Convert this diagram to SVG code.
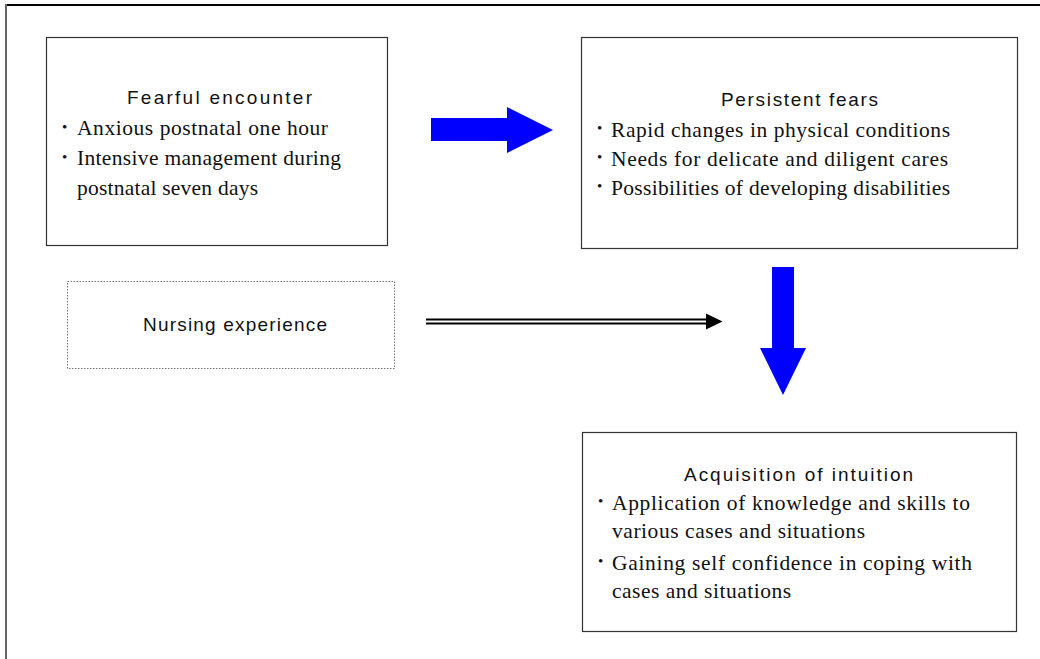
<svg xmlns="http://www.w3.org/2000/svg" width="1040" height="659" viewBox="0 0 1040 659">
<style>
.box{fill:#fff;stroke:#333;stroke-width:1.2}
.dot{fill:#fff;stroke:#777;stroke-width:1;stroke-dasharray:1.5 1.5}
.ttl{font-family:"Liberation Sans",Arial,sans-serif;font-size:19px;fill:#111}
.itm{font-family:"Liberation Serif","Times New Roman",serif;font-size:21.5px;fill:#111}
.bul{font-family:"Liberation Serif","Times New Roman",serif;font-size:15px;fill:#111}
.blue{fill:#0000ff}
</style>
<rect x="0" y="0" width="1040" height="659" fill="#fff"/>
<line x1="5" y1="5" x2="1040" y2="5" stroke="#000" stroke-width="2"/>
<line x1="6" y1="4" x2="6" y2="659" stroke="#666" stroke-width="2"/>

<g id="fearful-encounter">
<rect class="box" x="46.5" y="37.5" width="341" height="208"/>
<text class="ttl" x="127" y="104" textLength="185" lengthAdjust="spacing">Fearful encounter</text>
<text class="bul" x="62" y="132">•</text>
<text class="itm" x="77" y="135" textLength="251" lengthAdjust="spacing">Anxious postnatal one hour</text>
<text class="bul" x="62" y="162">•</text>
<text class="itm" x="77" y="165" textLength="264" lengthAdjust="spacing">Intensive management during</text>
<text class="itm" x="77" y="195" textLength="181" lengthAdjust="spacing">postnatal seven days</text>
</g>

<g id="persistent-fears">
<rect class="box" x="581.5" y="37.5" width="436" height="211"/>
<text class="ttl" x="721" y="106" textLength="157" lengthAdjust="spacing">Persistent fears</text>
<text class="bul" x="597" y="133">•</text>
<text class="itm" x="611" y="137" textLength="339" lengthAdjust="spacing">Rapid changes in physical conditions</text>
<text class="bul" x="597" y="162">•</text>
<text class="itm" x="611" y="166" textLength="337" lengthAdjust="spacing">Needs for delicate and diligent cares</text>
<text class="bul" x="597" y="191">•</text>
<text class="itm" x="611" y="195" textLength="339" lengthAdjust="spacing">Possibilities of developing disabilities</text>
</g>

<g id="nursing-experience">
<rect class="dot" x="67.5" y="281.5" width="327" height="87"/>
<text class="ttl" x="143" y="331" textLength="184" lengthAdjust="spacing">Nursing experience</text>
</g>

<g id="acquisition-of-intuition">
<rect class="box" x="582.5" y="432.5" width="434" height="199"/>
<text class="ttl" x="684" y="481" textLength="229" lengthAdjust="spacing">Acquisition of intuition</text>
<text class="bul" x="598" y="506">•</text>
<text class="itm" x="612" y="510" textLength="358" lengthAdjust="spacing">Application of knowledge and skills to</text>
<text class="itm" x="612" y="538" textLength="253" lengthAdjust="spacing">various cases and situations</text>
<text class="bul" x="598" y="566">•</text>
<text class="itm" x="612" y="570" textLength="360" lengthAdjust="spacing">Gaining self confidence in coping with</text>
<text class="itm" x="612" y="598" textLength="179" lengthAdjust="spacing">cases and situations</text>
</g>

<g id="connectors">
<polygon class="blue" points="431,118 507,118 507,107 553,130 507,153 507,141 431,141"/>
<polygon class="blue" points="772,267 794,267 794,348 806,348 783,395 760,348 772,348"/>
<line x1="426" y1="319.5" x2="708" y2="319.5" stroke="#000" stroke-width="2"/>
<line x1="426" y1="323.5" x2="708" y2="323.5" stroke="#000" stroke-width="2"/>
<polygon points="706,313.5 722.5,321.5 706,329.5" fill="#000"/>
</g>
</svg>
